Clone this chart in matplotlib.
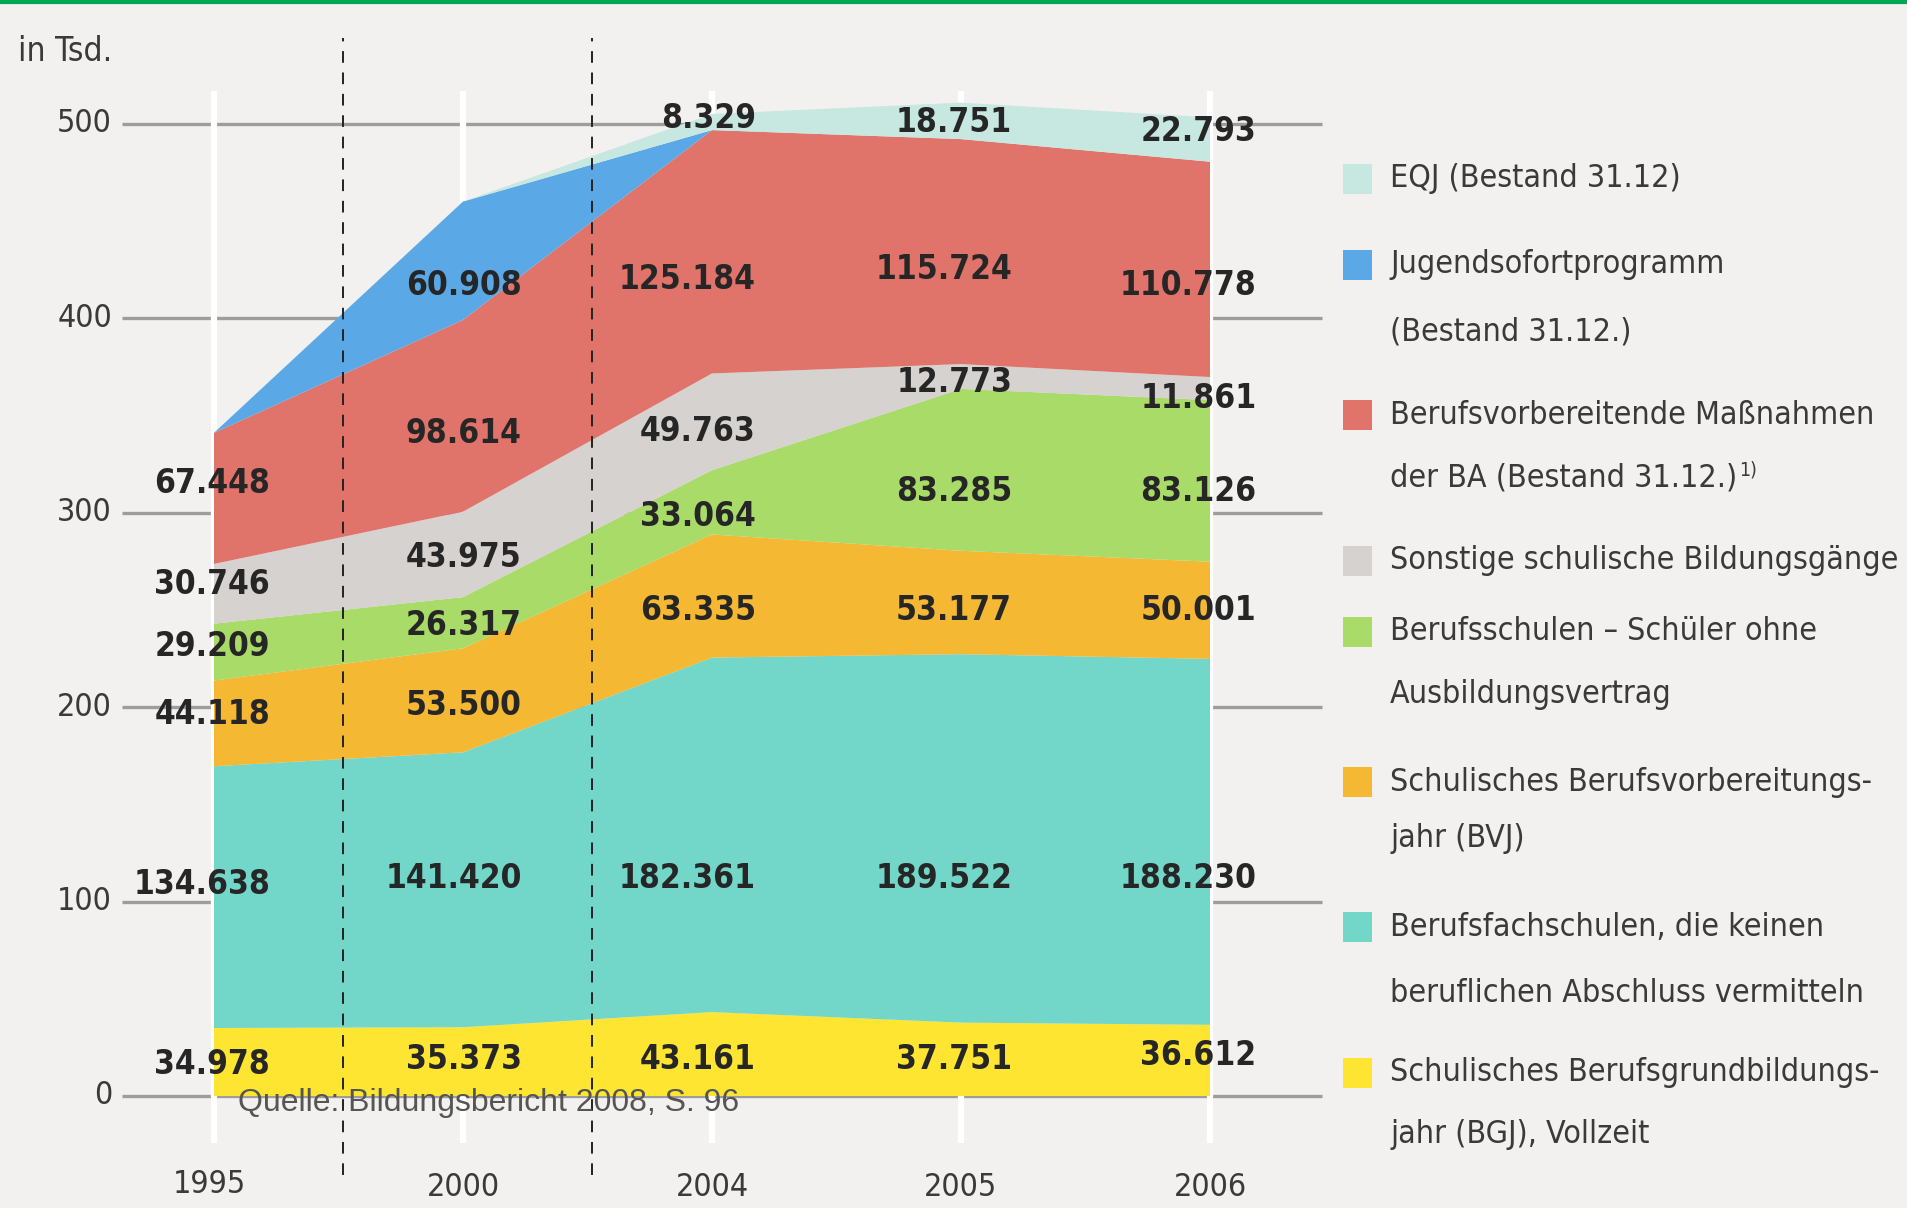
import os
import matplotlib
matplotlib.use("Agg")
import matplotlib.pyplot as plt
from matplotlib import font_manager as fm
from matplotlib.patches import Rectangle
from matplotlib.lines import Line2D

# ---------------- data ----------------
years = ["1995", "2000", "2004", "2005", "2006"]
bgj = [34.978, 35.373, 43.161, 37.751, 36.612]
bfs = [134.638, 141.420, 182.361, 189.522, 188.230]
bvj = [44.118, 53.500, 63.335, 53.177, 50.001]
berufsschulen = [29.209, 26.317, 33.064, 83.285, 83.126]
sonstige = [30.746, 43.975, 49.763, 12.773, 11.861]
ba = [67.448, 98.614, 125.184, 115.724, 110.778]
jugendsofort = [0, 60.908, 0, 0, 0]
eqj = [0, 0, 8.329, 18.751, 22.793]
y_ticks = [0, 100, 200, 300, 400, 500]

series = [bgj, bfs, bvj, berufsschulen, sonstige, ba, jugendsofort, eqj]
colors = ["#fde531", "#72d6c8", "#f4b833", "#a9db68", "#d6d2cf",
          "#e0736a", "#5aa9e6", "#c6e8e1"]
legend_lines = [
    ["Schulisches Berufsgrundbildungs-", "jahr (BGJ), Vollzeit"],
    ["Berufsfachschulen, die keinen", "beruflichen Abschluss vermitteln"],
    ["Schulisches Berufsvorbereitungs-", "jahr (BVJ)"],
    ["Berufsschulen – Schüler ohne", "Ausbildungsvertrag"],
    ["Sonstige schulische Bildungsgänge"],
    ["Berufsvorbereitende Maßnahmen", "der BA (Bestand 31.12.)"],
    ["Jugendsofortprogramm", "(Bestand 31.12.)"],
    ["EQJ (Bestand 31.12)"],
]
footnote_entry = 5

# label layout (y positions in data units, None = no label)
label_y = [
    [16, 19, 19, 19, 21],
    [109, 112, 112, 112, 112],
    [196, 201, 250, 250, 250],
    [231, 242, 298, 311, 311],
    [263, 277, 342, 367, 359],
    [315, 341, 420, 425, 417],
    [None, 417, None, None, None],
    [None, None, 503, 501, 496],
]
label_dx = [0.225, 0.235, 0.176, 0.205, 0.186]

# legend layout: pixel y (from top) of each text line, bottom-series first
legend_line_px = [
    [1073, 1135],
    [927, 994],
    [782, 839],
    [632, 694],
    [561],
    [415, 478],
    [265, 332],
    [179],
]

# ---------------- fonts ----------------
files = [f.fname for f in fm.fontManager.ttflist]


def find(cands):
    low = {os.path.basename(f).lower(): f for f in files}
    for c in cands:
        if c in low:
            return fm.FontProperties(fname=low[c])
    return None


REG = find(["liberationsansnarrow-regular.ttf", "notosans-condensed.ttf",
            "dejavusanscondensed.ttf"]) or fm.FontProperties(family="DejaVu Sans")
BOLD = find(["liberationsansnarrow-bold.ttf", "notosans-condensedbold.ttf",
             "notosans-condensedsemibold.ttf", "dejavusanscondensed-bold.ttf"]) \
    or fm.FontProperties(family="DejaVu Sans", weight="bold")


def fp(base, size):
    p = base.copy()
    p.set_size(size)
    return p


W, H = 1907, 1208
BG = "#f2f1ef"
TXT = "#3a3a3a"
fig = plt.figure(figsize=(W / 100, H / 100), dpi=100, facecolor=BG)
ax = fig.add_axes([0, 0, 1, 1])
ax.set_facecolor(BG)
ax.axis("off")

# pixel mapping: x index 0 at px 214, spacing 249; y 0 at px 1096, 1.944 px/unit
x0, dx = 214, 249.0
y0, sy = 1096, 1.944
ax.set_xlim(-x0 / dx, (W - x0) / dx)
ax.set_ylim((y0 - H) / sy, y0 / sy)

x = list(range(len(years)))

# grid lines + y tick labels
for t in y_ticks:
    ax.plot([-0.37, 4.45], [t, t], color="#9e9d9b", lw=2.4, zorder=1, solid_capstyle="butt")
    ax.text(-0.41, t, str(t), ha="right", va="center", fontproperties=fp(REG, 23), color=TXT)

# white vertical lines
for xi in x:
    ax.plot([xi, xi], [-24, 517], color="white", lw=4.5, zorder=1.5, solid_capstyle="butt")

# stacked areas
ax.stackplot(x, *series, colors=colors, linewidth=0, zorder=2, antialiased=True)

# dashed separators
for xd in (0.518, 1.52):
    ax.plot([xd, xd], [-40.6, 544], color="#222222", lw=1.4, ls=(0, (6, 5)), zorder=4)

# value labels
for s, ys in zip(series, label_y):
    for i, yy in enumerate(ys):
        if yy is None:
            continue
        ax.text(i + label_dx[i], yy, f"{s[i]:.3f}", ha="right", va="center",
                fontproperties=fp(BOLD, 24), color="#262626", zorder=5)

# x tick labels
for i, yl in enumerate(years):
    ax.text(i - (0.02 if i == 0 else 0), -47 + (1.5 if i == 0 else 0), yl,
            ha="center", va="center", fontproperties=fp(REG, 23), color=TXT)

# unit label
ax.text(-0.787, 537.5, "in Tsd.", ha="left", va="center", fontproperties=fp(REG, 24),
        color=TXT)

# source
ax.text((238 - x0) / dx, -3.6, "Quelle: Bildungsbericht 2008, S. 96", ha="left",
        va="center", family="Liberation Sans", fontsize=23, color="#555555", zorder=6)

# top green line
fig.add_artist(Line2D([0, 1], [1 - 1.5 / H, 1 - 1.5 / H], transform=fig.transFigure,
                      color="#00a651", lw=3))

# legend
renderer = fig.canvas.get_renderer()
for idx in range(len(series)):
    lines = legend_line_px[idx]
    py = lines[0]
    fig.add_artist(Rectangle((1343 / W, 1 - (py + 15) / H), 29 / W, 30 / H,
                             transform=fig.transFigure, facecolor=colors[idx],
                             edgecolor="none"))
    for ly, txt in zip(lines, legend_lines[idx]):
        t = fig.text(1390 / W, 1 - ly / H, txt, ha="left", va="center",
                     fontproperties=fp(REG, 23), color=TXT)
    if idx == footnote_entry:
        bb = t.get_window_extent(renderer)
        fig.text((bb.x1 + 2) / W, 1 - (ly - 8) / H, "1)", ha="left", va="center",
                 fontproperties=fp(REG, 14), color=TXT)

fig.savefig("out.png", dpi=100, facecolor=BG)
